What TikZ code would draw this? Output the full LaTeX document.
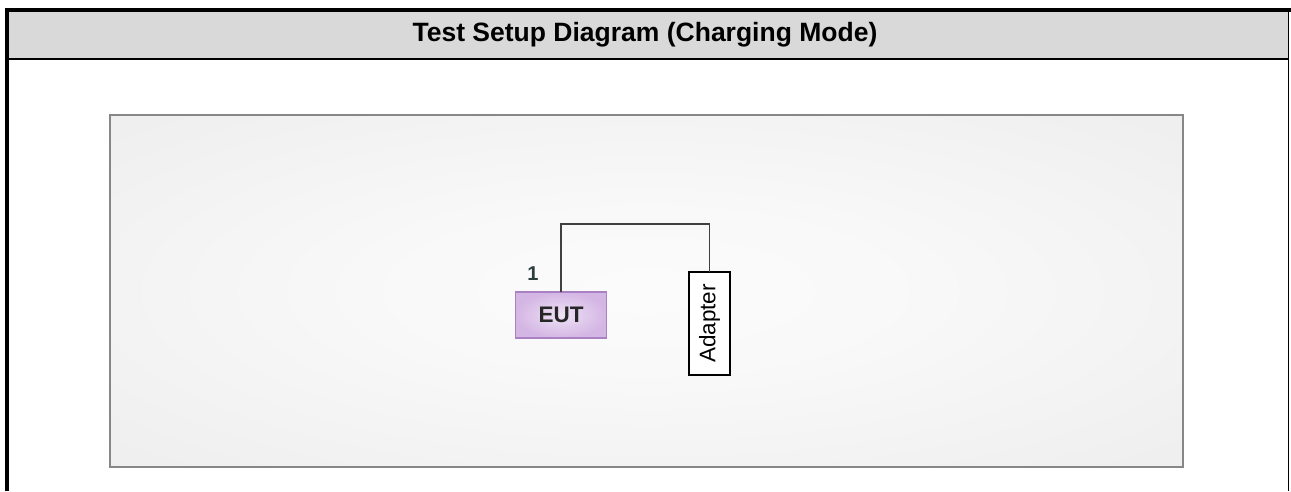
\documentclass[tikz,border=0pt]{standalone}
\usepackage{fontspec}
\setmainfont{Liberation Sans}
\usetikzlibrary{positioning}
\definecolor{tsBand}   {RGB}{217,217,217}
\definecolor{tsEdge}   {RGB}{135,135,135}
\definecolor{tsWire}   {RGB}{ 64, 64, 64}
\definecolor{tsEut}    {RGB}{212,182,228}
\definecolor{tsEutL}   {RGB}{238,226,245}
\definecolor{tsEutEdge}{RGB}{170,130,196}
\definecolor{tsLabel}  {RGB}{ 45, 60, 60}
\pgfdeclareradialshading{benchshade}{\pgfpoint{0bp}{0bp}}
  {color(0bp)=(gray!3); color(12bp)=(gray!5); color(35bp)=(gray!13); color(50bp)=(gray!16)}

\begin{document}
\begin{tikzpicture}[x=1pt,y=-1pt,
  every node/.style={inner sep=0pt,outer sep=0pt},
  unit/.style={draw=tsEutEdge,line width=1.2pt,minimum width=91pt,minimum height=46pt,
               shading=radial,inner color=tsEutL,outer color=tsEut,
               font=\bfseries\fontsize{22.5}{26}\selectfont,text=black!85},
  psu/.style={draw=black,line width=1.2pt,fill=white,minimum width=41pt,minimum height=103pt,
              font=\fontsize{22.5}{26}\selectfont},
  wire/.style={draw=tsWire,line width=1.8pt}
]
\useasboundingbox (0,0) rectangle (1291,491);
% frame and title band
\fill[tsBand] (9,12) rectangle (1288,58);
\draw[line width=2pt] (9,59) -- (1288,59);
\draw[line width=4pt] (7,491) -- (7,10) -- (1291,10);
\draw[line width=1pt] (1288.5,12) -- (1288.5,491);
\node[font=\bfseries\fontsize{26.5}{30}\selectfont] (title) at (645,35)
   {Test Setup Diagram (Charging Mode)};
% test table
\shade[shading=benchshade] (110,115) rectangle (1183,467);
\draw[tsEdge,line width=1.6pt] (110,115) rectangle (1183,467);
% equipment
\node[unit] (eut) at (561,315) {EUT};
\node[font=\bfseries\fontsize{20}{22}\selectfont,text=tsLabel] (num) at (533,274) {1};
\node[psu] (adapter) at (709.5,323.5) {\rotatebox{90}{Adapter}};
\draw[wire] (eut.north) -- ++(0,-68) -| (adapter.north);
\end{tikzpicture}
\end{document}
